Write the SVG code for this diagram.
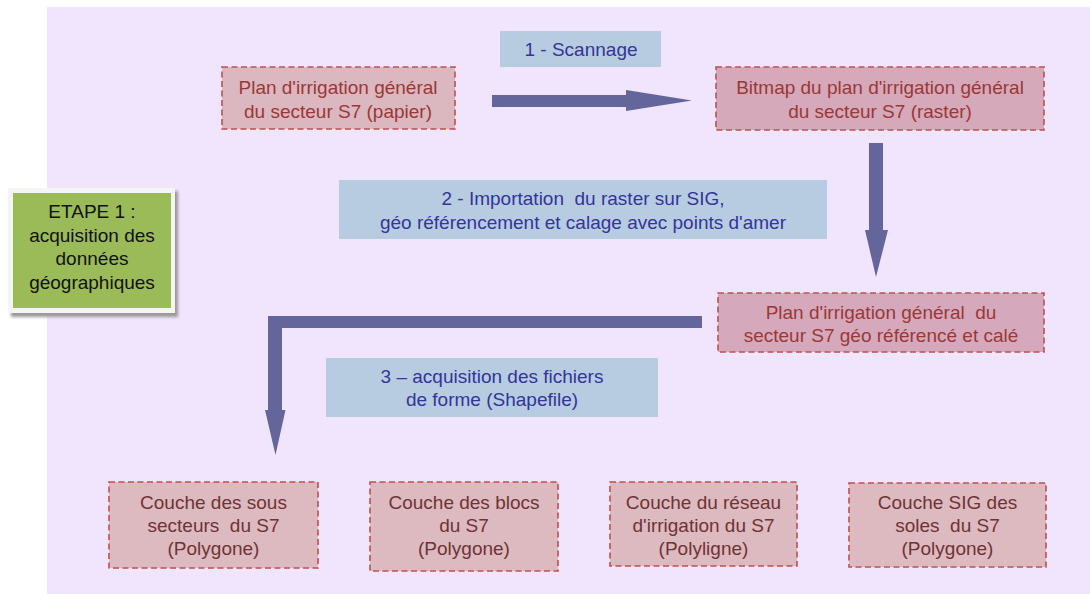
<svg xmlns="http://www.w3.org/2000/svg" width="1090" height="594" viewBox="0 0 1090 594">
<defs>
<style>
text{font-family:"Liberation Sans",Arial,sans-serif;font-size:19px;text-anchor:middle;white-space:pre}
.node{stroke:#c0504d;stroke-width:1.6;stroke-dasharray:6 3.5}
.t-top{fill:#9a3838}
.t-bot{fill:#6e3434}
.lbl{fill:#b7cce0}
.t-lbl{fill:#34349a}
.arrow{fill:#64659a}
</style>
<filter id="sh" x="-10%" y="-10%" width="130%" height="130%"><feGaussianBlur stdDeviation="1.5"/></filter>
</defs>
<rect x="47" y="7" width="1043" height="587" fill="#f1e4fd"/>

<g id="connectors">
<polygon class="arrow" points="492,95 626,95 626,90 692,100.5 626,111 626,107 492,107"/>
<polygon class="arrow" points="869,143 883,143 883,230 888,230 876,277 865,230 869,230"/>
<polygon class="arrow" points="702,316 702,328 282,328 282,410 285.5,410 275.5,455 265,410 268,410 268,316"/>
</g>

<g id="label-scannage">
<rect class="lbl" x="500" y="31" width="161" height="36"/>
<text class="t-lbl" x="581" y="56" xml:space="preserve">1 - Scannage</text>
</g>
<g id="label-importation">
<rect class="lbl" x="339" y="180" width="488" height="59"/>
<text class="t-lbl" x="583" y="204.5" xml:space="preserve">2 - Importation  du raster sur SIG,</text>
<text class="t-lbl" x="583" y="228.5" xml:space="preserve">géo référencement et calage avec points d'amer</text>
</g>
<g id="label-acquisition">
<rect class="lbl" x="326" y="358" width="332" height="59"/>
<text class="t-lbl" x="492" y="382.5" xml:space="preserve">3 – acquisition des fichiers</text>
<text class="t-lbl" x="492" y="405.5" xml:space="preserve">de forme (Shapefile)</text>
</g>

<g id="etape1">
<rect x="11" y="191" width="167" height="126" fill="#9a9a9a" filter="url(#sh)"/>
<rect x="8" y="188" width="167" height="125" fill="#f5f5f3"/>
<rect x="13" y="193" width="158" height="115" fill="#9bbb59"/>
<text x="92" y="218" fill="#111">ETAPE 1 :</text>
<text x="92" y="241.5" fill="#111">acquisition des</text>
<text x="92" y="265" fill="#111">données</text>
<text x="92" y="288.5" fill="#111">géographiques</text>
</g>

<g id="plan-papier">
<rect class="node" x="222" y="67" width="233" height="62" fill="#dbb7bf"/>
<text class="t-top" x="338" y="93.5">Plan d'irrigation général</text>
<text class="t-top" x="338" y="117.5">du secteur S7 (papier)</text>
</g>
<g id="bitmap-raster">
<rect class="node" x="716" y="67" width="328" height="63" fill="#d5a9b9"/>
<text class="t-top" x="880" y="93.5">Bitmap du plan d'irrigation général</text>
<text class="t-top" x="880" y="117.5">du secteur S7 (raster)</text>
</g>
<g id="plan-georef">
<rect class="node" x="718" y="293" width="326" height="59" fill="#d6a8bb"/>
<text class="t-top" x="881" y="318.5" xml:space="preserve">Plan d'irrigation général  du</text>
<text class="t-top" x="881" y="341.5">secteur S7 géo référencé et calé</text>
</g>

<g id="couche-sous-secteurs">
<rect class="node" x="109" y="482" width="209" height="86" fill="#ddb9c0"/>
<text class="t-bot" x="213.5" y="508.5">Couche des sous</text>
<text class="t-bot" x="213.5" y="531.5" xml:space="preserve">secteurs  du S7</text>
<text class="t-bot" x="213.5" y="554.5">(Polygone)</text>
</g>
<g id="couche-blocs">
<rect class="node" x="370" y="482" width="188" height="89" fill="#ddb9c0"/>
<text class="t-bot" x="464" y="508.5">Couche des blocs</text>
<text class="t-bot" x="464" y="531.5">du S7</text>
<text class="t-bot" x="464" y="554.5">(Polygone)</text>
</g>
<g id="couche-reseau">
<rect class="node" x="610" y="482" width="187" height="84" fill="#ddb9c0"/>
<text class="t-bot" x="703.5" y="508.5">Couche du réseau</text>
<text class="t-bot" x="703.5" y="531.5">d'irrigation du S7</text>
<text class="t-bot" x="703.5" y="554.5">(Polyligne)</text>
</g>
<g id="couche-soles">
<rect class="node" x="849" y="483" width="197" height="84" fill="#ddb9c0"/>
<text class="t-bot" x="947.5" y="508.5">Couche SIG des</text>
<text class="t-bot" x="947.5" y="531.5" xml:space="preserve">soles  du S7</text>
<text class="t-bot" x="947.5" y="554.5">(Polygone)</text>
</g>
</svg>
